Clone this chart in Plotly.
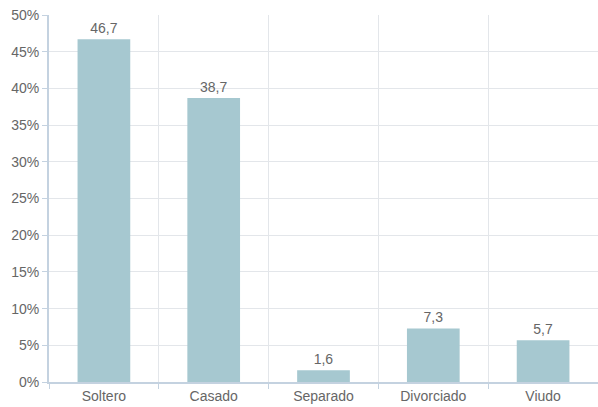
import plotly.graph_objects as go

categories = ["Soltero", "Casado", "Separado", "Divorciado", "Viudo"]
values = [46.7, 38.7, 1.6, 7.3, 5.7]
labels = [f"{v:.1f}".replace(".", ",") for v in values]

fig = go.Figure(go.Bar(
    x=categories, y=values, text=labels, textposition="outside",
    marker=dict(color="#a6c8d0", line=dict(width=0)),
    textfont=dict(color="#666666", size=14, family="Liberation Sans, Arial"),
    width=0.48, cliponaxis=False,
))
fig.update_layout(
    width=598, height=407,
    margin=dict(l=49, r=0, t=15, b=25),
    paper_bgcolor="white", plot_bgcolor="white",
    showlegend=False,
    font=dict(family="Liberation Sans, Arial", size=14, color="#666666"),
)
fig.update_xaxes(
    tickson="boundaries", showgrid=True, gridcolor="#e3e6ea", gridwidth=1,
    showline=True, linecolor="#c4d2e0", linewidth=2,
    ticks="outside", ticklen=5, tickcolor="#c4d2e0",
    tickfont=dict(size=14, color="#666666"),
)
fig.update_yaxes(
    range=[0, 50], dtick=5, ticksuffix="%",
    showgrid=True, gridcolor="#e3e6ea", gridwidth=1,
    showline=True, linecolor="#c4d2e0", linewidth=2,
    ticks="outside", ticklen=5, tickcolor="#c4d2e0",
    zeroline=False, tickfont=dict(size=14, color="#666666"),
)
fig.write_html("out.html")
